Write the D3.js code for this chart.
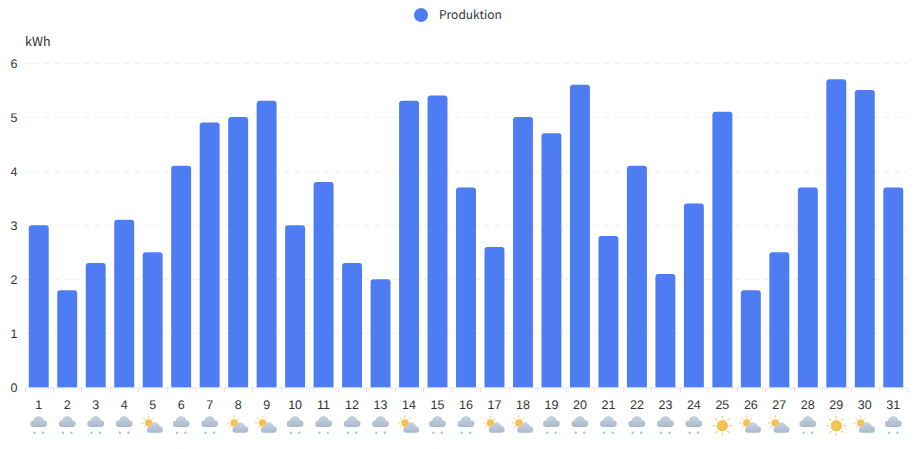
<!DOCTYPE html>
<html>
<head>
<meta charset="utf-8">
<script src="https://cdn.jsdelivr.net/npm/d3@7"></script>
<style>
    html, body { margin: 0; padding: 0; background: #fff; }
    svg { display: block; font-family: "Noto Sans CJK SC", "Noto Sans", sans-serif; text-rendering: geometricPrecision; }
</style>
</head>
<body>
<div id="chart"></div>
<script>
var days = ["1","2","3","4","5","6","7","8","9","10","11","12","13","14","15","16","17","18","19","20","21","22","23","24","25","26","27","28","29","30","31"];
var production = [3.0,1.8,2.3,3.1,2.5,4.1,4.9,5.0,5.3,3.0,3.8,2.3,2.0,5.3,5.4,3.7,2.6,5.0,4.7,5.6,2.8,4.1,2.1,3.4,5.1,1.8,2.5,3.7,5.7,5.5,3.7];
var weather = ["rain","rain","rain","rain","partly","rain","rain","partly","partly","rain","rain","rain","rain","partly","rain","rain","partly","partly","rain","rain","rain","rain","rain","rain","sun","partly","partly","rain","sun","partly","rain"];
var yTicks = [0,1,2,3,4,5,6];
var seriesName = "Produktion";
var unit = "kWh";

var width = 917, height = 449;
var plotLeft = 24.5, plotRight = 907.5, plotTop = 63, plotBottom = 387.5;
var barColor = "#4e7cf2", textColor = "#333";

var svg = d3.select("#chart").append("svg")
    .attr("width", width)
    .attr("height", height);

var defs = svg.append("defs");
var cloudGrad = defs.append("linearGradient")
    .attr("id", "cloud-grad")
    .attr("x1", 0).attr("y1", 0).attr("x2", 0).attr("y2", 1);
cloudGrad.append("stop").attr("offset", "0%").attr("stop-color", "#c9d4e2");
cloudGrad.append("stop").attr("offset", "100%").attr("stop-color", "#a8b8cc");

var x = d3.scaleBand().domain(days).range([plotLeft, plotRight]).paddingInner(0.3).paddingOuter(0.15);
var xStep = d3.scaleBand().domain(days).range([plotLeft, plotRight]);
var y = d3.scaleLinear().domain([0, 6]).range([plotBottom, plotTop]);

// grid
svg.append("g").selectAll("line")
    .data(yTicks.filter(function (d) { return d > 0; }))
    .join("line")
    .attr("x1", plotLeft).attr("x2", plotRight)
    .attr("y1", function (d) { return Math.round(y(d)) + 0.5; })
    .attr("y2", function (d) { return Math.round(y(d)) + 0.5; })
    .attr("stroke", "#eeeeee")
    .attr("stroke-dasharray", "5,5");

// y axis, only labels
var yAxis = svg.append("g")
    .attr("transform", "translate(" + plotLeft + ",0)")
    .call(d3.axisLeft(y).tickValues(yTicks).tickSize(0).tickPadding(7).tickFormat(d3.format("d")));
yAxis.select(".domain").remove();
yAxis.selectAll("text").attr("fill", textColor).style("font-size", "12.5px");

// bars with rounded top
function barPath(d, i) {
    var bx = x(days[i]), bw = x.bandwidth(), by = y(d), r = 3;
    return "M" + bx + "," + plotBottom +
        "V" + (by + r) +
        "Q" + bx + "," + by + " " + (bx + r) + "," + by +
        "H" + (bx + bw - r) +
        "Q" + (bx + bw) + "," + by + " " + (bx + bw) + "," + (by + r) +
        "V" + plotBottom + "Z";
}
svg.append("g").selectAll("path")
    .data(production)
    .join("path")
    .attr("d", barPath)
    .attr("fill", barColor);

// x axis
var xAxis = svg.append("g")
    .attr("transform", "translate(0," + plotBottom + ")")
    .call(d3.axisBottom(xStep).tickSize(0).tickPadding(12.5));
xAxis.select(".domain").attr("stroke", "#e0e6f1").attr("d", "M" + plotLeft + ",0.5H" + plotRight);
xAxis.selectAll("text").attr("fill", textColor).style("font-size", "12.5px");

var tickPos = [plotLeft].concat(days.map(function (d) { return xStep(d) + xStep.bandwidth(); }));
svg.append("g").selectAll("line")
    .data(tickPos)
    .join("line")
    .attr("x1", function (d) { return Math.round(d) + 0.5; })
    .attr("x2", function (d) { return Math.round(d) + 0.5; })
    .attr("y1", plotBottom).attr("y2", plotBottom + 5)
    .attr("stroke", "#e0e6f1");

// weather icons
function lobe(cx, cy, r) {
    return "M" + (cx - r) + "," + cy +
        "a" + r + "," + r + " 0 1,0 " + (2 * r) + ",0" +
        "a" + r + "," + r + " 0 1,0 " + (-2 * r) + ",0Z";
}

function cloud(g, dx, dy, s) {
    g.append("path")
        .attr("transform", "translate(" + dx + "," + dy + ") scale(" + s + ")")
        .attr("d", lobe(0, -0.3, 5.2) + lobe(-5.2, 2.3, 3.2) + lobe(5, 2.1, 3.4) +
            "M-5.2,1V5.5H5V1Z")
        .attr("fill", "url(#cloud-grad)");
}

function sun(g, dx, dy, r, rayFrom, rayTo, rayWidth) {
    var rays = d3.range(8).map(function (i) { return i * Math.PI / 4; });
    g.selectAll(null)
        .data(rays)
        .join("line")
        .attr("x1", function (a) { return dx + Math.cos(a) * rayFrom; })
        .attr("y1", function (a) { return dy + Math.sin(a) * rayFrom; })
        .attr("x2", function (a) { return dx + Math.cos(a) * rayTo; })
        .attr("y2", function (a) { return dy + Math.sin(a) * rayTo; })
        .attr("stroke", "#f6cd6b")
        .attr("stroke-width", rayWidth);
    g.append("circle")
        .attr("cx", dx).attr("cy", dy).attr("r", r)
        .attr("fill", "#f4c24f");
}

var icons = svg.append("g").selectAll("g")
    .data(weather)
    .join("g")
    .attr("transform", function (d, i) {
        return "translate(" + (xStep(days[i]) + xStep.bandwidth() / 2) + ",0)";
    });

icons.each(function (kind) {
    var g = d3.select(this);
    if (kind === "rain") {
        cloud(g, 0, 421.5, 1);
        g.selectAll(null)
            .data([-4.2, 4.2])
            .join("circle")
            .attr("cx", function (d) { return d; })
            .attr("cy", 432.8)
            .attr("r", 1.2)
            .attr("fill", "#a6c2f5");
    } else if (kind === "partly") {
        sun(g, -4, 423, 3.8, 5, 7.5, 1);
        cloud(g, 2.2, 427.6, 0.95);
    } else {
        sun(g, 0, 425.7, 5.6, 7.2, 10, 1.1);
    }
});

// legend
svg.append("circle")
    .attr("cx", 421).attr("cy", 15).attr("r", 7)
    .attr("fill", barColor);
svg.append("text")
    .attr("x", 439).attr("y", 19)
    .attr("fill", textColor)
    .style("font-size", "12px")
    .text(seriesName);

// unit label
svg.append("text")
    .attr("x", 25).attr("y", 46)
    .attr("fill", textColor)
    .style("font-size", "12.5px")
    .text(unit);
</script>
</body>
</html>
